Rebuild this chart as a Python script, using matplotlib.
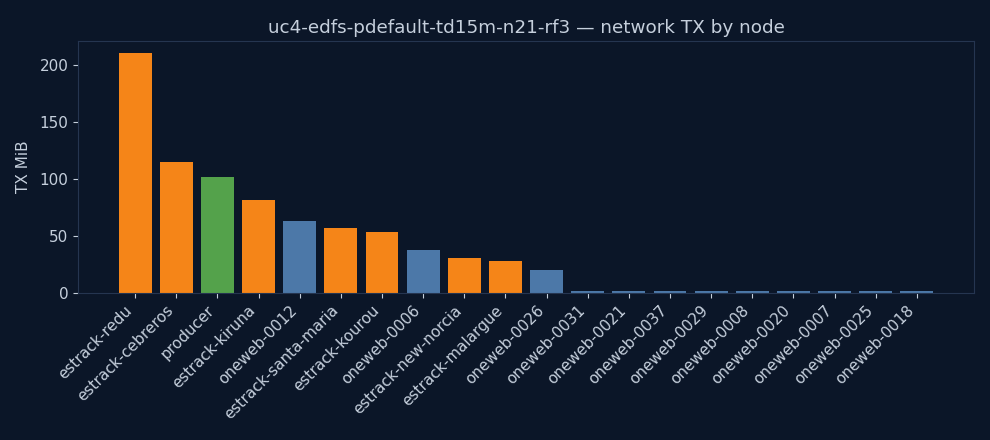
import matplotlib
matplotlib.use('Agg')
import matplotlib.pyplot as plt

BG = '#0b1628'
FG = '#c5cfdc'
EDGE = '#253550'

ORANGE = '#f58518'
GREEN = '#54a24b'
BLUE = '#4c78a8'

nodes = ['estrack-redu', 'estrack-cebreros', 'producer', 'estrack-kiruna',
         'oneweb-0012', 'estrack-santa-maria', 'estrack-kourou', 'oneweb-0006',
         'estrack-new-norcia', 'estrack-malargue', 'oneweb-0026', 'oneweb-0031',
         'oneweb-0021', 'oneweb-0037', 'oneweb-0029', 'oneweb-0008',
         'oneweb-0020', 'oneweb-0007', 'oneweb-0025', 'oneweb-0018']
tx_mib = [210.5, 115.0, 101.8, 81.6, 63.2, 57.0, 53.5, 37.7, 30.7, 28.0, 20.2,
          1.5, 1.5, 1.5, 1.5, 1.5, 1.5, 1.5, 1.5, 1.5]


def node_color(name):
    if name.startswith('estrack'):
        return ORANGE
    if name == 'producer':
        return GREEN
    return BLUE


colors = [node_color(n) for n in nodes]

fig = plt.figure(figsize=(9.9, 4.4), dpi=100, facecolor=BG)
ax = fig.add_axes([0.0788, 0.334, 0.905, 0.573])
ax.set_facecolor(BG)

ax.bar(range(len(nodes)), tx_mib, color=colors, width=0.8)
ax.set_xticks(range(len(nodes)))
ax.set_xticklabels(nodes, rotation=45, ha='right')
ax.set_ylabel('TX MiB', color=FG, fontsize=11, labelpad=6)
ax.set_title('uc4-edfs-pdefault-td15m-n21-rf3 — network TX by node',
             color=FG, fontsize=13.25)
ax.set_yticks([0, 50, 100, 150, 200])

ax.tick_params(colors=FG, labelsize=11)
for t in ax.get_xticklabels() + ax.get_yticklabels():
    t.set_color(FG)
for s in ax.spines.values():
    s.set_color(EDGE)

fig.savefig('out.png', facecolor=BG)
